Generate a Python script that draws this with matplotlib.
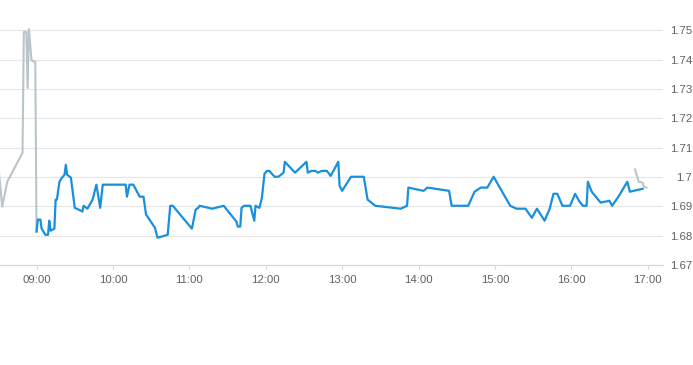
import matplotlib
matplotlib.use("Agg")
import matplotlib.pyplot as plt
import matplotlib.dates as mdates
import pandas as pd

# pre-market (grey) series
pre_times = ["08:30", "08:33", "08:37", "08:49", "08:50", "08:52", "08:53", "08:54",
             "08:56", "08:57", "08:59", "09:00"]
pre_prices = [1.7040, 1.6899, 1.6984, 1.7083, 1.7495, 1.7495, 1.7304, 1.7505,
              1.7399, 1.7396, 1.7393, 1.6814]

# regular session (blue) series
day_times = ["09:00", "09:01", "09:03", "09:04", "09:07", "09:09", "09:10", "09:11",
             "09:14", "09:15", "09:16", "09:18", "09:20", "09:22", "09:23", "09:24",
             "09:27", "09:30", "09:35", "09:36", "09:37", "09:40", "09:44", "09:47",
             "09:50", "09:52", "10:10", "10:11", "10:13", "10:16", "10:21", "10:24",
             "10:26", "10:33", "10:35", "10:43", "10:45", "10:47", "11:02", "11:05",
             "11:07", "11:08", "11:18", "11:27", "11:37", "11:38", "11:40", "11:41",
             "11:43", "11:48", "11:51", "11:52", "11:55", "11:57", "11:59", "12:01",
             "12:03", "12:04", "12:07", "12:10", "12:14", "12:15", "12:23", "12:32",
             "12:33", "12:36", "12:39", "12:41", "12:44", "12:48", "12:51", "12:57",
             "12:58", "13:00", "13:07", "13:17", "13:20", "13:26", "13:46", "13:51",
             "13:52", "14:04", "14:07", "14:24", "14:26", "14:39", "14:44", "14:49",
             "14:54", "14:59", "15:12", "15:17", "15:24", "15:29", "15:33", "15:39",
             "15:43", "15:46", "15:49", "15:53", "15:59", "16:03", "16:06", "16:09",
             "16:12", "16:13", "16:16", "16:23", "16:30", "16:32", "16:37", "16:44",
             "16:46", "16:56"]
day_prices = [1.6814, 1.6855, 1.6855, 1.6824, 1.6803, 1.6803, 1.6851, 1.6817,
              1.6824, 1.6923, 1.6923, 1.6984, 1.6998, 1.7008, 1.7042, 1.7008,
              1.6998, 1.6895, 1.6885, 1.6882, 1.6902, 1.6892, 1.6923, 1.6974,
              1.6895, 1.6974, 1.6974, 1.6933, 1.6974, 1.6974, 1.6933, 1.6933,
              1.6872, 1.6827, 1.6793, 1.6803, 1.6902, 1.6902, 1.6824, 1.6889,
              1.6895, 1.6902, 1.6892, 1.6902, 1.6848, 1.6831, 1.6831, 1.6895,
              1.6902, 1.6902, 1.6851, 1.6902, 1.6895, 1.6929, 1.7011, 1.7021,
              1.7021, 1.7015, 1.7001, 1.7001, 1.7015, 1.7052, 1.7015, 1.7052,
              1.7015, 1.7021, 1.7021, 1.7015, 1.7021, 1.7021, 1.7004, 1.7052,
              1.6970, 1.6953, 1.7001, 1.7001, 1.6923, 1.6902, 1.6892, 1.6902,
              1.6964, 1.6953, 1.6964, 1.6953, 1.6902, 1.6902, 1.6950, 1.6964,
              1.6964, 1.7001, 1.6902, 1.6892, 1.6892, 1.6861, 1.6892, 1.6851,
              1.6892, 1.6943, 1.6943, 1.6902, 1.6902, 1.6943, 1.6919, 1.6902,
              1.6902, 1.6984, 1.6950, 1.6913, 1.6919, 1.6902, 1.6933, 1.6984,
              1.6950, 1.6960]

# after-hours (grey) series
post_times = ["16:50", "16:53", "16:56", "16:57", "16:59"]
post_prices = [1.7026, 1.6984, 1.6981, 1.6967, 1.6964]

y_ticks = [1.67, 1.68, 1.69, 1.70, 1.71, 1.72, 1.73, 1.74, 1.75]
y_labels = ["1.67", "1.68", "1.69", "1.7", "1.71", "1.72", "1.73", "1.74", "1.75"]
x_ticks = ["09:00", "10:00", "11:00", "12:00", "13:00", "14:00", "15:00", "16:00", "17:00"]


def to_dt(times):
    return pd.to_datetime(["2024-01-02 " + t for t in times])


plt.rcParams["font.family"] = ["Liberation Sans", "DejaVu Sans"]

fig = plt.figure(figsize=(6.93, 3.65), dpi=100)
ax = fig.add_axes([0.0, 0.274, 0.9567, 0.7228])

ax.plot(to_dt(pre_times), pre_prices, color="#b9c4cb", lw=1.5, zorder=2)
ax.plot(to_dt(day_times), day_prices, color="#1a90dd", lw=1.6, zorder=3)
ax.plot(to_dt(post_times), post_prices, color="#b9c4cb", lw=1.5, zorder=4)

ax.set_xlim(pd.Timestamp("2024-01-02 08:31:18"), pd.Timestamp("2024-01-02 17:12:00"))
ax.set_ylim(1.67, 1.76)

ax.set_yticks(y_ticks)
ax.set_yticklabels(y_labels)
ax.yaxis.tick_right()
ax.tick_params(axis="y", length=0, pad=21, labelsize=8.2, labelcolor="#606060")
for lbl in ax.get_yticklabels():
    lbl.set_horizontalalignment("right")

ax.set_xticks(to_dt(x_ticks))
ax.xaxis.set_major_formatter(mdates.DateFormatter("%H:%M"))
ax.tick_params(axis="x", length=3, width=0.8, color="#ccd6eb", pad=4.5,
               labelsize=8.2, labelcolor="#606060")

ax.grid(axis="y", color="#e6e6e6", lw=0.8)
ax.set_axisbelow(True)
for side in ["top", "left", "right"]:
    ax.spines[side].set_visible(False)
ax.spines["bottom"].set_color("#ccd6eb")
ax.spines["bottom"].set_linewidth(0.8)

fig.savefig("out.png", dpi=100)
